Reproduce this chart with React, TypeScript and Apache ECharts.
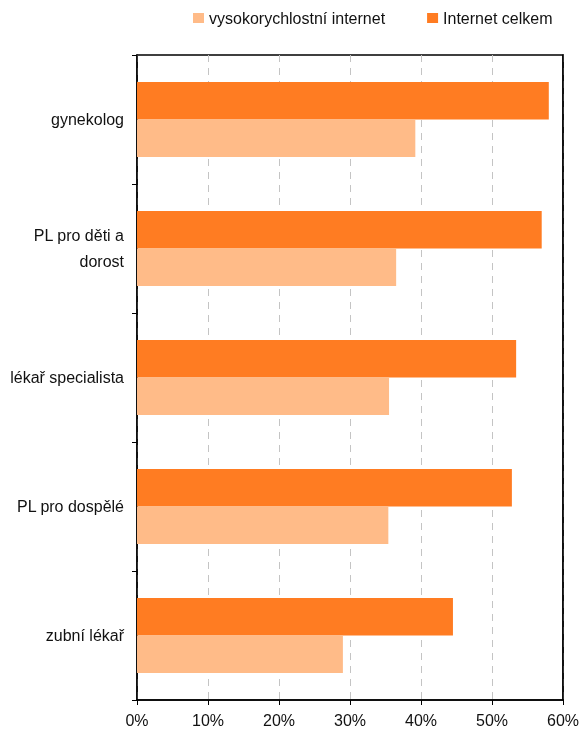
import React, { useEffect, useRef } from "react";
import * as echarts from "echarts";

const categories = ["gynekolog", "PL pro děti a\ndorost", "lékař specialista", "PL pro dospělé", "zubní lékař"];
const highSpeed = [39.2, 36.5, 35.5, 35.4, 29.0];
const totalInternet = [58.0, 57.0, 53.4, 52.8, 44.5];
const seriesNames = ["vysokorychlostní internet", "Internet celkem"];
const xTicks = { min: 0, max: 60, interval: 10 };

export default function App() {
  const ref = useRef<HTMLDivElement>(null);
  useEffect(() => {
    if (!ref.current) return;
    const chart = echarts.init(ref.current, null, { renderer: "svg" });
    const font = "Liberation Sans, Arial, sans-serif";
    chart.setOption({
      animation: false,
      textStyle: { fontFamily: font },
      legend: {
        left: 188,
        top: 5,
        itemWidth: 11,
        itemHeight: 10,
        itemGap: 42,
        icon: "rect",
        textStyle: { fontSize: 16, color: "#111", fontFamily: font },
        data: [seriesNames[0], seriesNames[1]],
      },
      grid: {
        left: 137,
        right: 17,
        top: 55,
        bottom: 31,
        outerBoundsMode: "none",
        containLabel: false,
        show: true,
        borderColor: "#000",
        borderWidth: 1.5,
      },
      xAxis: {
        type: "value",
        min: xTicks.min,
        max: xTicks.max,
        interval: xTicks.interval,
        axisLine: { show: true, lineStyle: { color: "#000", width: 1.5 } },
        axisTick: { show: true, length: 5, lineStyle: { color: "#000" } },
        axisLabel: {
          formatter: "{value}%",
          fontSize: 16,
          color: "#111",
          margin: 12,
          fontFamily: font,
        },
        splitLine: {
          show: true,
          lineStyle: { color: "#c4c4c4", type: [7, 6], width: 1 },
        },
      },
      yAxis: [
        {
          type: "category",
          inverse: true,
          data: categories,
          axisLine: { show: true, lineStyle: { color: "#000", width: 1.5 } },
          axisTick: { show: true, length: 5, lineStyle: { color: "#000" } },
          axisLabel: {
            fontSize: 16,
            color: "#111",
            margin: 13,
            lineHeight: 26,
            fontFamily: font,
          },
        },
        {
          type: "category",
          inverse: true,
          position: "right",
          data: categories,
          axisLine: { show: true, lineStyle: { color: "#000", width: 1.5 } },
          axisTick: { show: false },
          axisLabel: { show: false },
          splitLine: { show: false },
        },
      ],
      series: [
        {
          name: seriesNames[1],
          type: "bar",
          data: totalInternet,
          itemStyle: { color: "#FF7C22" },
          barWidth: 37.5,
          barGap: "0%",
          barCategoryGap: "42%",
        },
        {
          name: seriesNames[0],
          type: "bar",
          data: highSpeed,
          itemStyle: { color: "#FFBB88" },
          barWidth: 37.5,
          barGap: "0%",
          barCategoryGap: "42%",
        },
      ],
    });
    return () => chart.dispose();
  }, []);
  return (
    <div
      ref={ref}
      style={{ position: "fixed", left: 0, top: 0, width: 580, height: 731 }}
    />
  );
}
